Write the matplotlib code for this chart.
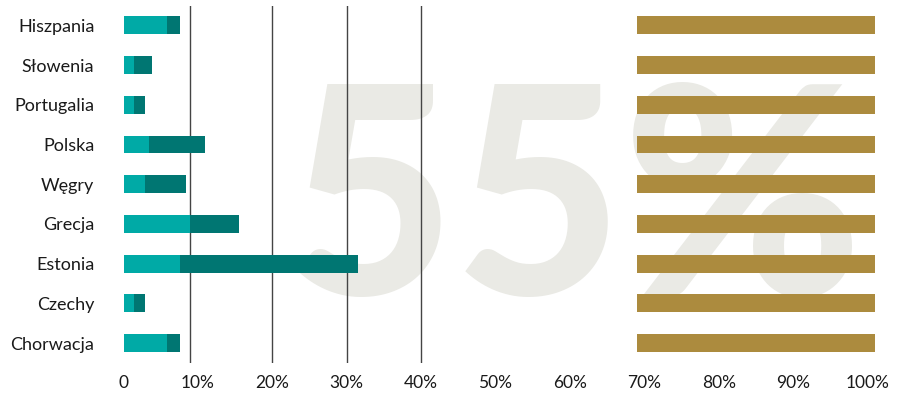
import matplotlib
matplotlib.use("Agg")
import matplotlib.pyplot as plt

countries = ["Hiszpania", "Słowenia", "Portugalia", "Polska", "Węgry",
             "Grecja", "Estonia", "Czechy", "Chorwacja"]
share_a = [5.85, 1.4, 1.4, 3.4, 2.9, 9.0, 7.6, 1.4, 5.85]
share_total = [7.6, 3.8, 2.9, 10.95, 8.4, 15.5, 31.5, 2.9, 7.6]
band_start = [69] * len(countries)
band_end = [101] * len(countries)
ref_lines = [9, 20, 30, 40]
tick_values = [0, 10, 20, 30, 40, 50, 60, 70, 80, 90, 100]
tick_labels = ["0", "10%", "20%", "30%", "40%", "50%", "60%", "70%",
               "80%", "90%", "100%"]
watermark = "55%"

LIGHT = "#00aaa6"
DARK = "#007672"
GOLD = "#ac8b3e"
WM = "#eaeae5"

plt.rcParams["font.family"] = ["Lato", "DejaVu Sans"]

W, H = 899, 395
fig = plt.figure(figsize=(W / 100, H / 100), dpi=100)
x0_px, top_px, bot_px = 123.5, 5.5, 363.0
xmax = 102
px_per_unit = 7.44
ax = fig.add_axes([x0_px / W, 1 - bot_px / H,
                   xmax * px_per_unit / W, (bot_px - top_px) / H])
ax.set_facecolor("none")

# large background figure, kept behind the axes
fig.text(575 / W, 1 - 295 / H, watermark, color=WM, fontsize=209,
         fontweight="black", fontstyle="normal", ha="center",
         va="baseline", zorder=-1)

y = list(range(len(countries)))
h = 0.45
ax.barh(y, share_a, height=h, color=LIGHT, zorder=3)
ax.barh(y, [t - a for t, a in zip(share_total, share_a)], left=share_a,
        height=h, color=DARK, zorder=3)
ax.barh(y, [e - s for s, e in zip(band_start, band_end)], left=band_start,
        height=h, color=GOLD, zorder=3)

for v in ref_lines:
    ax.axvline(v, color="#444444", lw=1.0, zorder=2)

ax.set_xlim(0, xmax)
ax.set_ylim(len(countries) - 0.5, -0.5)
ax.set_yticks(y)
ax.set_yticklabels(countries, fontsize=13, color="#1a1a1a")
ax.set_xticks(tick_values)
ax.set_xticklabels(tick_labels, fontsize=12.5, color="#1a1a1a")
ax.tick_params(axis="both", length=0)
ax.tick_params(axis="y", pad=21)
ax.tick_params(axis="x", pad=9)
for s in ax.spines.values():
    s.set_visible(False)

fig.savefig("out.png", dpi=100, facecolor="white")
